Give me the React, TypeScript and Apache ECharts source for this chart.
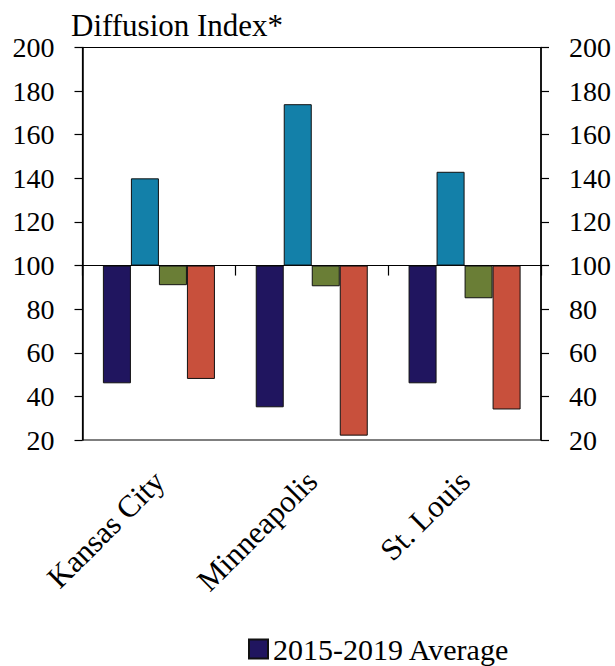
import React, { useEffect, useRef } from "react";
import * as echarts from "echarts";

const categories = ["Kansas City", "Minneapolis", "St. Louis"];
const avgName = "2015-2019 Average";
const avgValues = [46, 35, 46];
const series2Name = "Series 2";
const series2Values = [140, 174, 143];
const series3Name = "Series 3";
const series3Values = [91, 90.5, 85];
const series4Name = "Series 4";
const series4Values = [48, 22, 34];
const baseline = 100;
const yMin = 20;
const yMax = 200;
const yStep = 20;
const titleText = "Diffusion Index*";

const FONT = "'Liberation Serif', 'Times New Roman', serif";

export default function App() {
  const ref = useRef<HTMLDivElement>(null);
  useEffect(() => {
    document.body.style.margin = "0";
    if (!ref.current) return;
    const chart = echarts.init(ref.current, undefined, { renderer: "svg" });
    const shift = (arr: number[]) => arr.map((v) => v - baseline);
    const barStyle = (color: string) => ({
      color,
      borderColor: "#111",
      borderWidth: 1,
    });
    const yAxisCommon = {
      type: "value" as const,
      min: yMin - baseline,
      max: yMax - baseline,
      interval: yStep,
      splitLine: { show: false },
      axisLine: { show: true, lineStyle: { color: "#000", width: 1.5 } },
      axisTick: { show: true, inside: false, length: 8, lineStyle: { color: "#000", width: 1.2 } },
      axisLabel: {
        formatter: (v: number) => String(v + baseline),
        fontSize: 28,
        fontFamily: FONT,
        color: "#000",
        margin: 28,
      },
    };
    chart.setOption({
      animation: false,
      title: {
        text: titleText,
        left: 66,
        top: 5,
        textStyle: { fontSize: 31, fontFamily: FONT, fontWeight: "normal", color: "#000" },
      },
      legend: {
        data: [avgName],
        left: 248,
        top: 634,
        padding: 0,
        itemWidth: 19,
        itemHeight: 19,
        icon: "rect",
        textStyle: { fontSize: 30, fontFamily: FONT, color: "#000", lineHeight: 30 },
      },
      grid: {
        left: 82.5,
        right: 74,
        top: 47.5,
        bottom: 226,
        show: true,
        borderColor: "#000",
        borderWidth: 1.2,
        containLabel: false,
      },
      xAxis: [
        {
          type: "category",
          data: categories,
          position: "bottom",
          axisLine: { show: true, onZero: true, lineStyle: { color: "#000", width: 1.2 } },
          axisTick: { show: true, inside: false, length: 10, alignWithLabel: false, lineStyle: { color: "#000", width: 1.2 } },
          axisLabel: { show: false },
          splitLine: { show: false },
        },
        {
          type: "category",
          data: categories,
          position: "bottom",
          axisLine: { show: false, onZero: false },
          axisTick: { show: false },
          axisLabel: {
            show: true,
            rotate: 45,
            margin: 36,
            fontSize: 31,
            fontFamily: FONT,
            color: "#000",
          },
          splitLine: { show: false },
        },
      ],
      yAxis: [
        { ...yAxisCommon, position: "left" },
        { ...yAxisCommon, position: "right" },
      ],
      series: [
        {
          name: avgName,
          type: "bar",
          xAxisIndex: 0,
          yAxisIndex: 0,
          data: shift(avgValues),
          itemStyle: barStyle("#20155F"),
          barGap: "0%",
          barCategoryGap: "26.7%",
        },
        {
          name: series2Name,
          type: "bar",
          xAxisIndex: 0,
          yAxisIndex: 0,
          data: shift(series2Values),
          itemStyle: barStyle("#1380A9"),
          barGap: "0%",
          barCategoryGap: "26.7%",
        },
        {
          name: series3Name,
          type: "bar",
          xAxisIndex: 0,
          yAxisIndex: 0,
          data: shift(series3Values),
          itemStyle: barStyle("#6A7E36"),
          barGap: "0%",
          barCategoryGap: "26.7%",
        },
        {
          name: series4Name,
          type: "bar",
          xAxisIndex: 0,
          yAxisIndex: 0,
          data: shift(series4Values),
          itemStyle: barStyle("#C8503C"),
          barGap: "0%",
          barCategoryGap: "26.7%",
        },
      ],
    });
    return () => chart.dispose();
  }, []);
  return <div ref={ref} style={{ width: 615, height: 666 }} />;
}
